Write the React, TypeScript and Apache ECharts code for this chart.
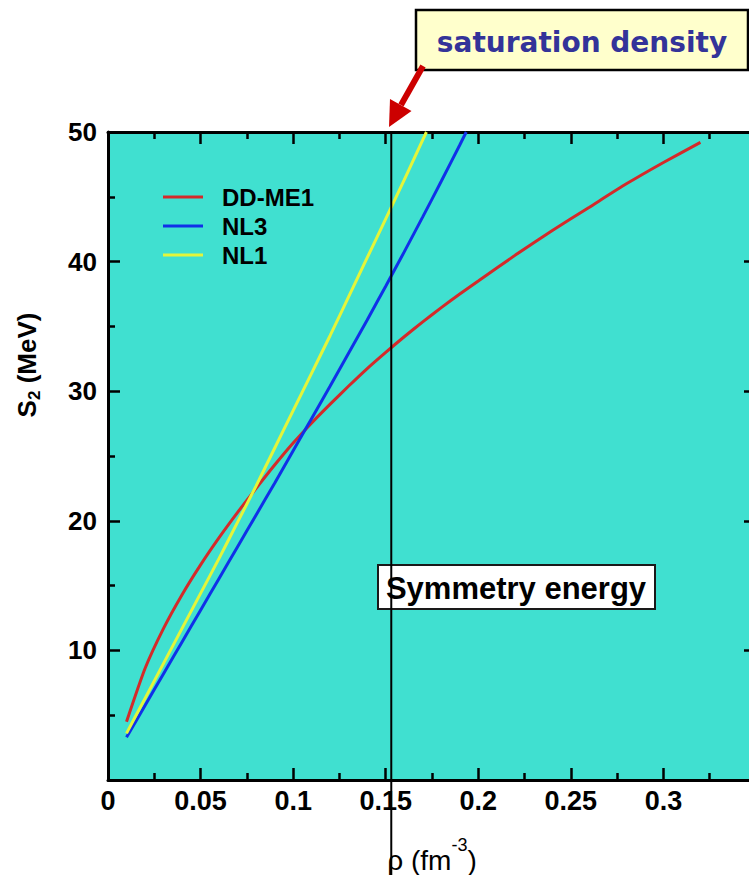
import React, { useEffect, useRef } from 'react';
import * as echarts from 'echarts';

const rhoDDME1 = [0.01, 0.02, 0.03, 0.04, 0.05, 0.06, 0.07, 0.08, 0.09, 0.10, 0.11, 0.12, 0.13, 0.14, 0.15, 0.16, 0.17, 0.18, 0.19, 0.20, 0.22, 0.24, 0.26, 0.28, 0.30, 0.32];
const s2DDME1 = [4.5, 8.6, 11.7, 14.3, 16.6, 18.7, 20.65, 22.5, 24.3, 26.0, 27.55, 29.0, 30.4, 31.75, 33.0, 34.2, 35.35, 36.45, 37.5, 38.5, 40.5, 42.4, 44.2, 46.0, 47.65, 49.2];

const rhoNL3 = [0.01, 0.02, 0.03, 0.04, 0.05, 0.06, 0.07, 0.08, 0.09, 0.10, 0.11, 0.12, 0.13, 0.14, 0.15, 0.16, 0.17, 0.18, 0.19, 0.1935];
const s2NL3 = [3.3, 5.75, 8.2, 10.65, 13.1, 15.55, 18.0, 20.45, 22.9, 25.4, 27.9, 30.4, 32.95, 35.5, 38.1, 40.75, 43.45, 46.2, 49.0, 50.0];

const rhoNL1 = [0.01, 0.02, 0.03, 0.04, 0.05, 0.06, 0.07, 0.08, 0.09, 0.10, 0.11, 0.12, 0.13, 0.14, 0.15, 0.16, 0.17, 0.172];
const s2NL1 = [3.6, 6.3, 9.0, 11.7, 14.4, 17.1, 19.9, 22.7, 25.6, 28.5, 31.4, 34.3, 37.3, 40.3, 43.3, 46.3, 49.4, 50.0];

const seriesNames = ['DD-ME1', 'NL3', 'NL1'];
const seriesColors = ['#d42a2a', '#1030e8', '#e4f53a'];
const saturationDensity = 0.153;

const FONT = '"Liberation Sans", Arial, Helvetica, sans-serif';

function pairs(xs: number[], ys: number[]) {
  return xs.map((x, i) => [x, ys[i]]);
}

export default function App() {
  const ref = useRef<HTMLDivElement>(null);
  useEffect(() => {
    if (!ref.current) return;
    const chart = echarts.init(ref.current, undefined, { renderer: 'svg' });
    const axisCommon = {
      type: 'value' as const,
      axisLine: { show: true, onZero: false, lineStyle: { color: '#000', width: 3 } },
      axisTick: { show: true, inside: true, length: 12, lineStyle: { color: '#000', width: 2.5 } },
      minorTick: { show: true, splitNumber: 2, length: 7, lineStyle: { color: '#000', width: 2.5 } },
      splitLine: { show: false },
    };
    const dataSets = [pairs(rhoDDME1, s2DDME1), pairs(rhoNL3, s2NL3), pairs(rhoNL1, s2NL1)];
    chart.setOption({
      animation: false,
      backgroundColor: '#ffffff',
      grid: {
        left: 108,
        top: 132,
        width: 648,
        height: 648,
        show: true,
        backgroundColor: '#40e0d0',
        borderWidth: 0,
      },
      legend: {
        data: seriesNames,
        orient: 'vertical',
        left: 158,
        top: 180,
        icon: 'rect',
        itemWidth: 40,
        itemHeight: 3,
        itemGap: 5,
        textStyle: {
          fontFamily: FONT,
          fontSize: 24,
          fontWeight: 'bold',
          color: '#000',
          lineHeight: 24,
          padding: [0, 0, 0, 14],
        },
      },
      xAxis: [
        {
          ...axisCommon,
          min: 0,
          max: 0.35,
          interval: 0.05,
          position: 'bottom',
          axisLabel: {
            show: true,
            margin: 7,
            fontFamily: FONT,
            fontSize: 27,
            fontWeight: 'bold',
            color: '#000',
            formatter: (v: number) => (v > 0.34 ? '' : String(+v.toFixed(2))),
          },
        },
        {
          ...axisCommon,
          min: 0,
          max: 0.35,
          interval: 0.05,
          position: 'top',
          axisLabel: { show: false },
        },
      ],
      yAxis: [
        {
          ...axisCommon,
          min: 0,
          max: 50,
          interval: 10,
          position: 'left',
          axisLabel: {
            show: true,
            margin: 11,
            fontFamily: FONT,
            fontSize: 26,
            fontWeight: 'bold',
            color: '#000',
            formatter: (v: number) => (v === 0 ? '' : String(v)),
          },
        },
        {
          ...axisCommon,
          min: 0,
          max: 50,
          interval: 10,
          position: 'right',
          axisLabel: { show: false },
        },
      ],
      series: seriesNames.map((name, i) => ({
        name,
        type: 'line',
        data: dataSets[i],
        smooth: 0.2,
        showSymbol: false,
        symbol: 'none',
        color: seriesColors[i],
        lineStyle: { color: seriesColors[i], width: 3 },
        xAxisIndex: 0,
        yAxisIndex: 0,
        z: 3,
      })),
    });

    const lineX = chart.convertToPixel({ xAxisIndex: 0 }, saturationDensity) as number;
    const topY = chart.convertToPixel({ yAxisIndex: 0 }, 50) as number;

    chart.setOption({
      graphic: [
        // Symmetry energy box
        {
          type: 'rect',
          shape: { x: 378, y: 565, width: 277, height: 44 },
          style: { fill: '#ffffff', stroke: '#1a1a1a', lineWidth: 2 },
          z: 10,
        },
        {
          type: 'text',
          x: 516,
          y: 588,
          style: {
            text: 'Symmetry energy',
            fontFamily: FONT,
            fontSize: 31,
            fontWeight: 'bold',
            fill: '#000',
            align: 'center',
            verticalAlign: 'middle',
          },
          z: 11,
        },
        // saturation density box
        {
          type: 'rect',
          shape: { x: 416, y: 10, width: 332, height: 60 },
          style: { fill: '#ffffcc', stroke: '#000', lineWidth: 2.5 },
          z: 10,
        },
        {
          type: 'text',
          x: 582,
          y: 42,
          style: {
            text: 'saturation density',
            fontFamily: '"DejaVu Sans", Verdana, sans-serif',
            fontSize: 28,
            fontWeight: 'bold',
            fill: '#333399',
            align: 'center',
            verticalAlign: 'middle',
          },
          z: 11,
        },
        // red arrow
        {
          type: 'line',
          shape: { x1: 423, y1: 66, x2: 401, y2: 105 },
          style: { stroke: '#cc0000', lineWidth: 6 },
          z: 12,
        },
        {
          type: 'polygon',
          shape: { points: [[389, 127], [411.5, 111], [390, 99]] },
          style: { fill: '#cc0000' },
          z: 12,
        },
        // saturation density vertical line
        {
          type: 'line',
          shape: { x1: lineX, y1: topY, x2: lineX, y2: 875 },
          style: { stroke: '#000', lineWidth: 2 },
          z: 20,
        },
        // y axis title
        {
          type: 'text',
          x: 27,
          y: 365,
          rotation: Math.PI / 2,
          style: {
            text: '{a|S}{s|2}{a| (MeV)}',
            align: 'center',
            verticalAlign: 'middle',
            rich: {
              a: { fontFamily: FONT, fontSize: 26, fontWeight: 'bold', fill: '#000', lineHeight: 32, verticalAlign: 'middle' },
              s: { fontFamily: FONT, fontSize: 17, fontWeight: 'bold', fill: '#000', lineHeight: 32, verticalAlign: 'bottom' },
            },
          },
          z: 10,
        },
        // x axis title
        {
          type: 'text',
          x: 432,
          y: 855,
          style: {
            text: '{a|ρ (fm}{s|-3}{a|)}',
            align: 'center',
            verticalAlign: 'middle',
            rich: {
              a: { fontFamily: FONT, fontSize: 28, fill: '#000', lineHeight: 38, verticalAlign: 'bottom' },
              s: { fontFamily: FONT, fontSize: 18, fill: '#000', lineHeight: 38, verticalAlign: 'top' },
            },
          },
          z: 10,
        },
      ],
    });

    return () => {
      chart.dispose();
    };
  }, []);

  return (
    <div
      ref={ref}
      style={{ position: 'fixed', left: 0, top: 0, width: 760, height: 875, background: '#fff' }}
    />
  );
}
